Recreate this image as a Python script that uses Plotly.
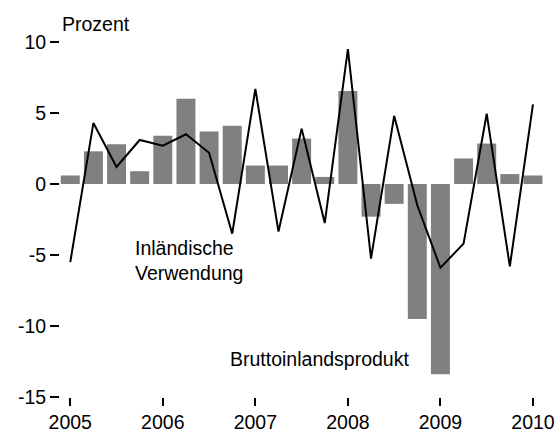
import plotly.graph_objects as go

quarters = [2005.0, 2005.25, 2005.5, 2005.75, 2006.0, 2006.25, 2006.5, 2006.75,
            2007.0, 2007.25, 2007.5, 2007.75, 2008.0, 2008.25, 2008.5, 2008.75,
            2009.0, 2009.25, 2009.5, 2009.75, 2010.0]
bip = [0.6, 2.3, 2.8, 0.9, 3.4, 6.0, 3.7, 4.1, 1.3, 1.3, 3.2, 0.5, 6.55,
       -2.3, -1.4, -9.5, -13.4, 1.8, 2.85, 0.7, 0.6]
inl_verwendung = [-5.5, 4.3, 1.2, 3.1, 2.7, 3.5, 2.2, -3.5, 6.7, -3.35, 3.9, -2.75,
                  9.5, -5.25, 4.8, -1.5, -5.9, -4.2, 4.95, -5.8, 5.6]
x_ticks = [2005, 2006, 2007, 2008, 2009, 2010]
x_labels = ["2005", "2006", "2007", "2008", "2009", "2010"]
y_ticks = [10, 5, 0, -5, -10, -15]
y_labels = ["10", "5", "0", "-5", "-10", "-15"]

FONT = "Liberation Sans, Arial, sans-serif"
FS = 19.5

fig = go.Figure()
fig.add_trace(go.Bar(x=quarters, y=bip, width=0.205, marker_color="#808080",
                     marker_line_width=0, name="Bruttoinlandsprodukt"))
fig.add_trace(go.Scatter(x=quarters, y=inl_verwendung, mode="lines",
                         line=dict(color="black", width=2), name="Inländische Verwendung"))

fig.update_layout(
    width=557, height=432,
    margin=dict(l=60, r=12, t=42, b=35),
    paper_bgcolor="white", plot_bgcolor="white",
    showlegend=False,
    font=dict(family=FONT, size=FS, color="black"),
    xaxis=dict(range=[2004.889, 2010.13], tickvals=x_ticks, ticktext=x_labels,
               ticks="outside", ticklen=8, tickwidth=1.5, tickcolor="black",
               showgrid=False, zeroline=False, showline=False, automargin=False),
    yaxis=dict(range=[-15, 10], tickvals=y_ticks, ticktext=y_labels,
               ticks="outside", ticklen=9, tickwidth=1.5, tickcolor="black",
               showgrid=False, zeroline=False, showline=False, automargin=False),
    annotations=[
        dict(x=0, xref="paper", y=1.051, yref="paper", text="Prozent", showarrow=False,
             xanchor="left", yanchor="middle", font=dict(family=FONT, size=FS)),
        dict(x=2005.677, xref="x", y=-5.41, yref="y", text="Inländische<br>Verwendung",
             showarrow=False, xanchor="left", yanchor="middle", align="left",
             font=dict(family=FONT, size=FS)),
        dict(x=2006.703, xref="x", y=-12.33, yref="y", text="Bruttoinlandsprodukt",
             showarrow=False, xanchor="left", yanchor="middle",
             font=dict(family=FONT, size=FS)),
    ],
)
fig.write_html(
    "out.html",
    config={"displayModeBar": False},
    post_script="document.body.style.margin='0';document.body.style.overflow='hidden';"
                "document.documentElement.style.overflow='hidden';",
)
